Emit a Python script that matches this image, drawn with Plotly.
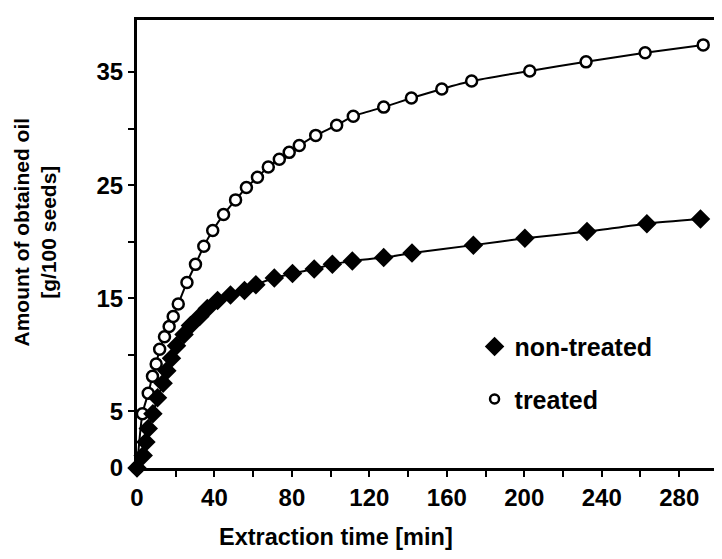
import plotly.graph_objects as go

# Non-treated seeds (filled diamonds)
nt_time = [0, 3.2, 4.6, 5.8, 8.2, 10.6, 13.5, 15.4, 17.8, 20.4, 24.3, 27.6, 32.4, 36.3,
           41.6, 48.3, 55.5, 61.4, 70.9, 80.3, 91.5, 100.9, 111.2, 127.4, 142.0, 173.7,
           200.3, 232.4, 263.3, 291.0]
nt_oil = [0.0, 1.1, 2.3, 3.5, 4.8, 6.2, 7.5, 8.6, 9.7, 10.8, 11.8, 12.6, 13.4, 14.1,
          14.8, 15.3, 15.7, 16.2, 16.8, 17.2, 17.6, 18.0, 18.3, 18.6, 19.0, 19.7,
          20.3, 20.9, 21.6, 22.0]

# Treated seeds (open circles)
tr_time = [0, 2.8, 5.8, 8.0, 9.9, 11.7, 14.2, 16.6, 18.7, 21.3, 25.8, 30.2, 34.5, 39.1,
           44.7, 50.9, 56.5, 62.2, 67.8, 73.5, 78.6, 83.8, 92.3, 103.1, 111.7, 127.4,
           141.7, 157.4, 172.8, 202.8, 231.9, 262.4, 292.4]
tr_oil = [0.0, 4.8, 6.6, 8.1, 9.2, 10.5, 11.6, 12.5, 13.4, 14.5, 16.4, 18.0, 19.6, 21.0,
          22.4, 23.7, 24.8, 25.7, 26.6, 27.3, 27.9, 28.5, 29.4, 30.3, 31.1, 31.9,
          32.7, 33.5, 34.2, 35.1, 35.9, 36.7, 37.4]

x_ticks = list(range(0, 281, 20))
x_labels = [str(v) if v % 40 == 0 else "" for v in x_ticks]
y_ticks = [0, 5, 10, 15, 20, 25, 30, 35]
y_labels = ["0", "5", "", "15", "", "25", "", "35"]

FONT = "Liberation Sans"

fig = go.Figure()
fig.add_trace(go.Scatter(
    x=tr_time, y=tr_oil, mode="lines+markers", showlegend=False, cliponaxis=False,
    line=dict(color="black", width=2, shape="spline", smoothing=0.6),
    marker=dict(symbol="circle", size=11, color="white", line=dict(color="black", width=2.5)),
))
fig.add_trace(go.Scatter(
    x=nt_time, y=nt_oil, mode="lines+markers", showlegend=False, cliponaxis=False,
    line=dict(color="black", width=2, shape="spline", smoothing=0.6),
    marker=dict(symbol="diamond", size=15, color="black"),
))
# legend entries (marker only)
fig.add_trace(go.Scatter(
    x=[None], y=[None], mode="markers", name="non-treated", legendgroup="a",
    marker=dict(symbol="diamond", size=15, color="black"),
))
fig.add_trace(go.Scatter(
    x=[None], y=[None], mode="markers", name="treated", legendgroup="b",
    marker=dict(symbol="circle", size=9, color="white", line=dict(color="black", width=2.5)),
))

axis_common = dict(
    showline=True, linecolor="black", linewidth=3, mirror=True,
    showgrid=False, zeroline=False, ticks="outside", ticklen=6, tickwidth=2,
    tickcolor="black",
    tickfont=dict(family=FONT, size=24, color="black", weight="bold"),
)

fig.update_xaxes(range=[0, 299], tickvals=x_ticks, ticktext=x_labels, **axis_common)
fig.update_yaxes(range=[0, 39.6], tickvals=y_ticks, ticktext=y_labels, **axis_common)

fig.update_layout(
    width=714, height=551,
    margin=dict(l=129, r=3, t=12, b=91),
    plot_bgcolor="white", paper_bgcolor="white",
    legend=dict(
        x=0.583, y=0.322, xanchor="left", yanchor="top",
        font=dict(family=FONT, size=25, color="black", weight="bold"),
        bgcolor="rgba(0,0,0,0)", tracegroupgap=17, traceorder="grouped",
        itemwidth=30,
    ),
    annotations=[
        dict(text="Extraction time [min]", xref="paper", yref="paper",
             x=(337 - 137) / 582, y=-0.155, xanchor="center", yanchor="middle",
             showarrow=False,
             font=dict(family=FONT, size=23.5, color="black", weight="bold")),
        dict(text="Amount of obtained oil<br>[g/100 seeds]", xref="paper", yref="paper",
             x=-0.177, y=(468 - 232) / 448, xanchor="center", yanchor="middle",
             textangle=-90, showarrow=False,
             font=dict(family=FONT, size=21, color="black", weight="bold")),
    ],
)

fig.write_html("out.html")
